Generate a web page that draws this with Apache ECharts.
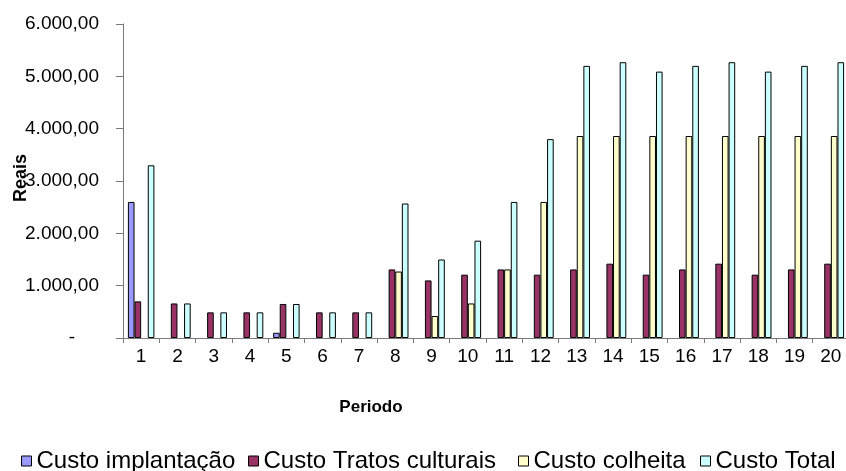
<!DOCTYPE html>
<html><head><meta charset="utf-8">
<script src="https://cdn.jsdelivr.net/npm/echarts@6/dist/echarts.min.js"></script>
<style>html,body{margin:0;padding:0;background:#fff}#c{width:846px;height:471px}</style>
</head><body><div id="c"></div>
<script>
const categories = ['1','2','3','4','5','6','7','8','9','10','11','12','13','14','15','16','17','18','19','20'];
const seriesNames = ['Custo implantação','Custo Tratos culturais','Custo colheita','Custo Total'];
const custoImplantacao = [2600,0,0,0,100,0,0,0,0,0,0,0,0,0,0,0,0,0,0,0];
const custoTratos = [700,660,490,490,650,490,490,1310,1100,1210,1310,1210,1310,1420,1210,1310,1420,1210,1310,1420];
const custoColheita = [0,0,0,0,0,0,0,1270,420,660,1310,2600,3860,3860,3860,3860,3860,3860,3860,3860];
const custoTotal = [3300,660,490,490,650,490,490,2570,1500,1860,2600,3800,5200,5270,5090,5200,5270,5090,5200,5270];
const yTickValues = [0,1000,2000,3000,4000,5000,6000];
const yTickLabels = ['-','1.000,00','2.000,00','3.000,00','4.000,00','5.000,00','6.000,00'];
const xTitle = 'Periodo';
const yTitle = 'Reais';
const colors = ['#9999FF','#993366','#FFFFCC','#CCFFFF'];
const FONT = '"Liberation Sans", Arial, sans-serif';

const chart = echarts.init(document.getElementById('c'), null, {renderer:'canvas'});
const dataArr = [custoImplantacao, custoTratos, custoColheita, custoTotal];
const legendLefts = [21, 248, 518, 700];

const option = {
  animation: false,
  backgroundColor: '#fff',
  grid: {left: 123, right: -3, top: 24, bottom: 133, containLabel: false, outerBoundsMode: 'none'},
  xAxis: {
    type: 'category', data: categories,
    axisLine: {lineStyle: {color: '#7a7a7a', width: 1}},
    axisTick: {show: true, length: 5, lineStyle: {color: '#7a7a7a'}},
    axisLabel: {color: '#000', fontFamily: FONT, fontSize: 19, margin: 9, interval: 0},
    splitLine: {show: false}
  },
  yAxis: {
    type: 'value', min: 0, max: 6000, interval: 1000,
    axisLine: {show: true, lineStyle: {color: '#7a7a7a', width: 1}},
    axisTick: {show: true, length: 7, lineStyle: {color: '#7a7a7a'}},
    splitLine: {show: false},
    axisLabel: {
      color: '#000', fontFamily: FONT, fontSize: 19, margin: 24,
      formatter: function (v) {
        const i = yTickValues.indexOf(v);
        const t = i >= 0 ? yTickLabels[i] : '';
        return v === 0 ? '{d|' + t + '}' : t;
      },
      rich: {d: {fontFamily: FONT, fontSize: 19, color: '#000', padding: [0, 24, 0, 0]}}
    }
  },
  legend: seriesNames.map(function (n, i) {
    return {
      data: [n], left: legendLefts[i], top: 449, padding: 0, icon: 'rect',
      itemWidth: 10, itemHeight: 10,
      itemStyle: {borderColor: '#000', borderWidth: 1},
      textStyle: {color: '#000', fontFamily: FONT, fontSize: 24},
      selectedMode: false
    };
  }),
  graphic: [{
    type: 'text', x: 371, y: 407,
    style: {text: xTitle, fill: '#000', font: 'bold 17px ' + FONT, align: 'center', verticalAlign: 'middle'}
  }, {
    type: 'text', x: 21, y: 178, rotation: Math.PI / 2,
    style: {text: yTitle, fill: '#000', font: 'bold 18px ' + FONT, align: 'center', verticalAlign: 'middle'}
  }],
  series: seriesNames.map(function (n, i) {
    return {
      name: n, type: 'bar',
      data: dataArr[i].map(function (v) { return v === 0 ? '-' : v; }),
      barGap: '0%', barCategoryGap: '27%',
      itemStyle: {color: colors[i], borderColor: '#000', borderWidth: 1}
    };
  })
};
chart.setOption(option);
</script>
</body></html>
